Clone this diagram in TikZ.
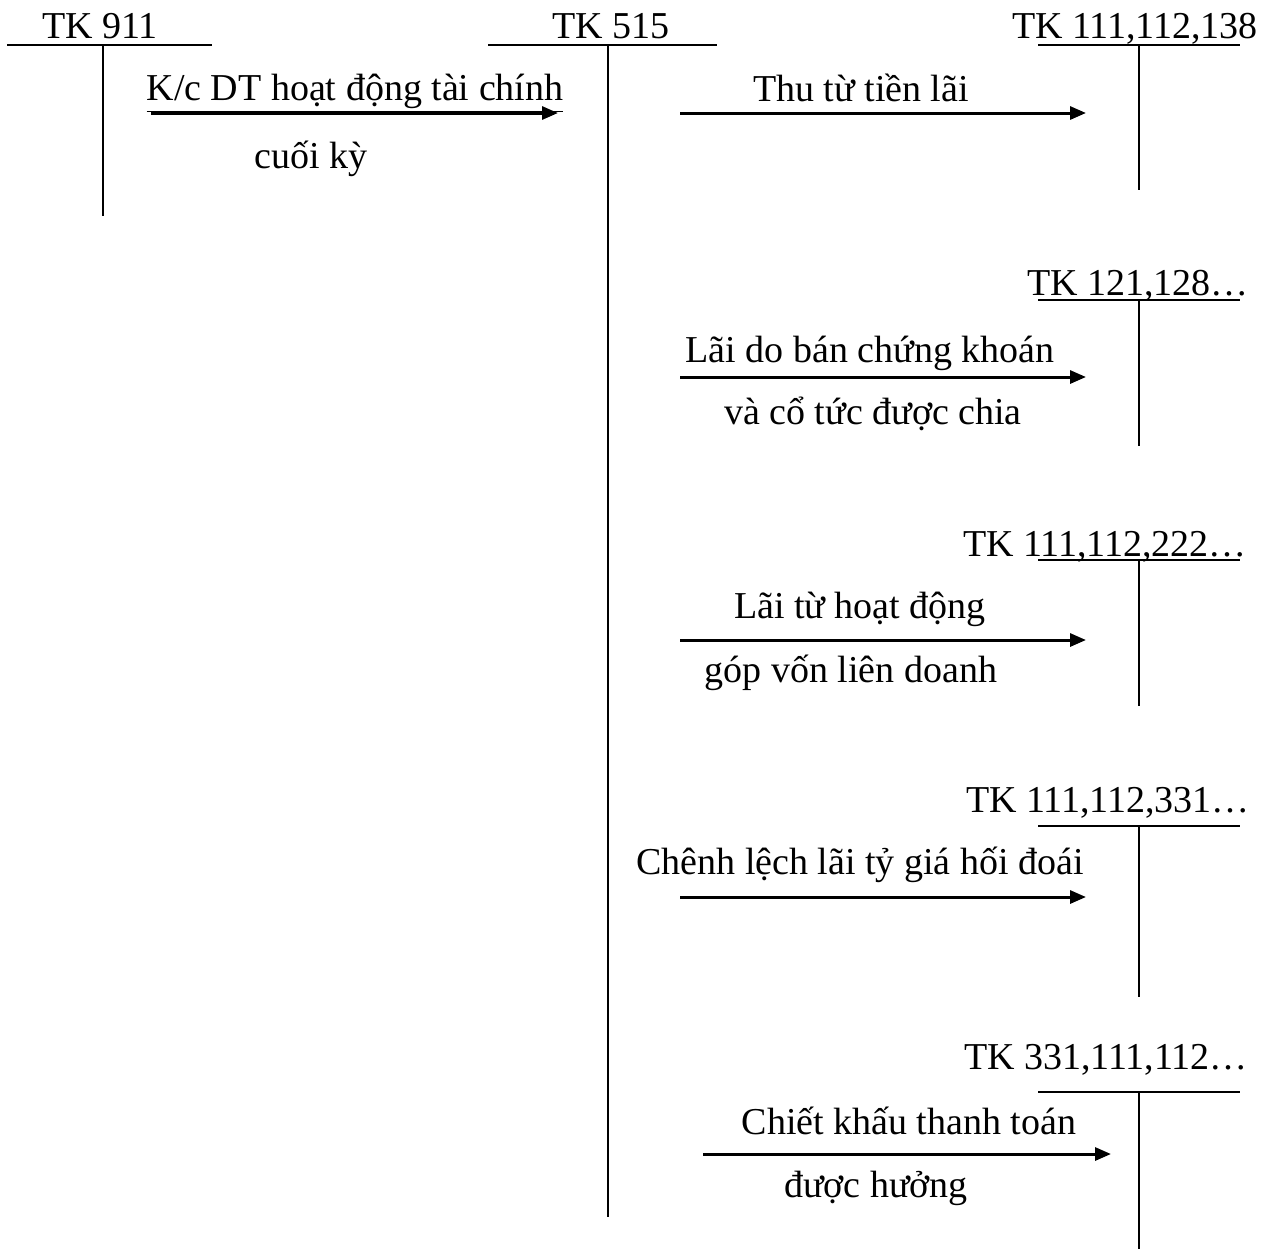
\documentclass[tikz,border=0pt]{standalone}
\usepackage{fontspec}
\setmainfont{Liberation Serif}
\usetikzlibrary{arrows.meta}
\begin{document}
\begin{tikzpicture}[x=0.5pt,y=-0.5pt,
  every node/.style={inner sep=0pt,font=\fontsize{19}{23}\selectfont},
  lbl/.style={anchor=base},
  tline/.style={line width=1pt},
  flow/.style={line width=1.5pt,-{Triangle[length=8pt,width=6.5pt]}}]
\useasboundingbox (0,0) rectangle (1274,1249);

% T-account TK 911
\node[lbl] (t911) at (100,38) {TK 911};
\coordinate (a1) at (7,45);   \coordinate (a2) at (212,45);
\coordinate (a3) at (103,45); \coordinate (a4) at (103,216);
\draw[tline] (a1) -- (a2) (a3) -- (a4);

% T-account TK 515
\node[lbl] (t515) at (611,38) {TK 515};
\coordinate (b1) at (488,45);  \coordinate (b2) at (717,45);
\coordinate (b3) at (608,45);  \coordinate (b4) at (608,1217);
\draw[tline] (b1) -- (b2) (b3) -- (b4);

% Right-hand T-accounts
\node[lbl] (c1) at (1135,38) {TK 111,112,138};
\coordinate (c1l) at (1038,45); \coordinate (c1r) at (1240,45);
\coordinate (c1t) at (1139,45); \coordinate (c1b) at (1139,190);
\draw[tline] (c1l) -- (c1r) (c1t) -- (c1b);

\node[lbl] (c2) at (1138,295) {TK 121,128…};
\coordinate (c2l) at (1038,300); \coordinate (c2r) at (1240,300);
\coordinate (c2t) at (1139,300); \coordinate (c2b) at (1139,446);
\draw[tline] (c2l) -- (c2r) (c2t) -- (c2b);

\node[lbl] (c3) at (1105,556) {TK 111,112,222…};
\coordinate (c3l) at (1038,560); \coordinate (c3r) at (1240,560);
\coordinate (c3t) at (1139,560); \coordinate (c3b) at (1139,706);
\draw[tline] (c3l) -- (c3r) (c3t) -- (c3b);

\node[lbl] (c4) at (1108,812) {TK 111,112,331…};
\coordinate (c4l) at (1038,826); \coordinate (c4r) at (1240,826);
\coordinate (c4t) at (1139,826); \coordinate (c4b) at (1139,997);
\draw[tline] (c4l) -- (c4r) (c4t) -- (c4b);

\node[lbl] (c5) at (1106,1069) {TK 331,111,112…};
\coordinate (c5l) at (1038,1092); \coordinate (c5r) at (1240,1092);
\coordinate (c5t) at (1139,1092); \coordinate (c5b) at (1139,1249);
\draw[tline] (c5l) -- (c5r) (c5t) -- (c5b);

% Entries
\node[lbl] (k1) at (355,100) {\underline{K/c DT hoạt động tài chính}};
\node[lbl] (k2) at (311,168) {cuối kỳ};
\coordinate (f1s) at (151,113); \coordinate (f1e) at (558,113);
\draw[flow] (f1s) -- (f1e);

\node[lbl] (e1) at (861,101) {Thu từ tiền lãi};
\coordinate (f2s) at (680,113); \coordinate (f2e) at (1086,113);
\draw[flow] (f2s) -- (f2e);

\node[lbl] (e2a) at (870,362) {Lãi do bán chứng khoán};
\node[lbl] (e2b) at (873,424) {và cổ tức được chia};
\coordinate (f3s) at (680,377); \coordinate (f3e) at (1086,377);
\draw[flow] (f3s) -- (f3e);

\node[lbl] (e3a) at (860,618) {Lãi từ hoạt động};
\node[lbl] (e3b) at (851,682) {góp vốn liên doanh};
\coordinate (f4s) at (680,640); \coordinate (f4e) at (1086,640);
\draw[flow] (f4s) -- (f4e);

\node[lbl] (e4) at (860,874) {Chênh lệch lãi tỷ giá hối đoái};
\coordinate (f5s) at (680,897); \coordinate (f5e) at (1086,897);
\draw[flow] (f5s) -- (f5e);

\node[lbl] (e5a) at (909,1134) {Chiết khấu thanh toán};
\node[lbl] (e5b) at (876,1197) {được hưởng};
\coordinate (f6s) at (703,1154); \coordinate (f6e) at (1111,1154);
\draw[flow] (f6s) -- (f6e);
\end{tikzpicture}
\end{document}
